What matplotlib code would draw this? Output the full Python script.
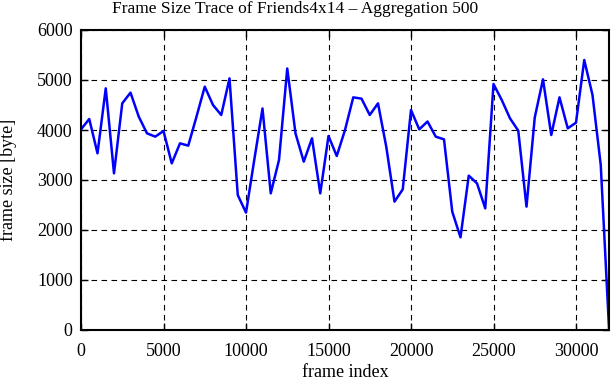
import matplotlib
matplotlib.use("Agg")
import matplotlib.pyplot as plt
import numpy as np

frame_index = list(range(0, 32001, 500))
frame_size = [4013, 4220, 3533, 4833, 3133, 4533, 4747, 4267, 3933, 3867,
              3980, 3333, 3733, 3687, 4267, 4867, 4500, 4300, 5033, 2700,
              2347, 3400, 4430, 2733, 3400, 5230, 3933, 3367, 3833, 2733,
              3880, 3480, 4000, 4653, 4627, 4300, 4533, 3667, 2567, 2813,
              4400, 4013, 4170, 3867, 3813, 2367, 1853, 3087, 2933, 2433,
              4920, 4600, 4233, 3987, 2467, 4250, 5013, 3900, 4653, 4033,
              4147, 5400, 4700, 3300, 40]

x_ticks = [0, 5000, 10000, 15000, 20000, 25000, 30000]
y_ticks = [0, 1000, 2000, 3000, 4000, 5000, 6000]

plt.rcParams['font.family'] = ['Liberation Serif', 'DejaVu Serif']
fig = plt.figure(figsize=(6.11, 3.80), dpi=100)
ax = fig.add_axes([81/611, 50/380, 528/611, 300/380])
ax.plot(frame_index, frame_size, color='#0000ff', lw=1.8)
ax.set_xlim(0, 32000)
ax.set_ylim(0, 6000)
ax.set_xticks(x_ticks)
ax.set_yticks(y_ticks)
ax.grid(True, color='black', linestyle=(0, (5, 4)), linewidth=0.8)
ax.tick_params(direction='in', top=True, right=True, length=5, width=1, labelsize=13)
ax.tick_params(axis='x', pad=9)
ax.tick_params(axis='y', pad=6)
for s in ax.spines.values():
    s.set_linewidth(1.5)
ax.set_xlabel('frame index', fontsize=13, labelpad=3)
ax.set_ylabel('frame size [byte]', fontsize=13, labelpad=14)
fig.text(295.5/611, 1 - 9/380, 'Frame Size Trace of Friends4x14 – Aggregation 500',
         fontsize=12.5, ha='center', va='center')
fig.savefig('out.png', dpi=100)
